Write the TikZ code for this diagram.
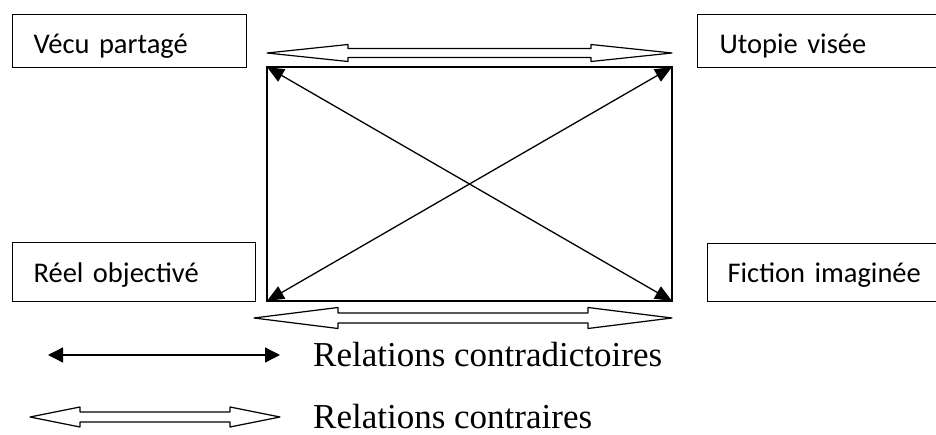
\documentclass[tikz,border=0pt]{standalone}
\usepackage{fontspec}
\setmainfont{Liberation Serif}
\newfontfamily\calibri{Carlito}
\usetikzlibrary{arrows.meta,calc}

% hollow double arrow: #1,#2 tips, #3 head length, #4 head half height, #5 shaft half height
\newcommand{\flechecontraire}[5]{%
  \draw[line width=1.2pt, line join=round] (#1) -- ($(#1)+(#3,-#4)$) -- ($(#1)+(#3,-#5)$)
    -- ($(#2)+(-#3,-#5)$) -- ($(#2)+(-#3,-#4)$) -- (#2) -- ($(#2)+(-#3,#4)$)
    -- ($(#2)+(-#3,#5)$) -- ($(#1)+(#3,#5)$) -- ($(#1)+(#3,#4)$) -- cycle;}

\begin{document}
\begin{tikzpicture}[x=1pt, y=-1pt,
	boite/.style={draw, line width=1.2pt, anchor=north west, align=left, inner ysep=0pt,
		font=\calibri\fontsize{28.5}{34}\selectfont},
	contra/.style={line width=1.3pt, {Triangle[length=17pt,width=14pt]}-{Triangle[length=17pt,width=14pt]}},
	legende/.style={anchor=base west, inner sep=0pt, font=\fontsize{35}{40}\selectfont}]
		\clip (0,0) rectangle (936,435);

		% les quatre termes
		\node[boite, inner xsep=21pt, text width=192pt, text height=39pt, text depth=14pt] (vecu) at (12,14) {Vécu partagé};
		\node[boite, inner xsep=22pt, text width=260pt, text height=39pt, text depth=14pt] (utopie) at (697,14) {Utopie visée};
		\node[boite, inner xsep=21pt, text width=201pt, text height=40pt, text depth=19pt] (reel) at (12,242) {Réel objectivé};
		\node[boite, inner xsep=20pt, text width=260pt, text height=39pt, text depth=19pt] (fiction) at (707,243) {Fiction imaginée};

		% le carré
		\coordinate (hg) at (267,67);
		\coordinate (hd) at (672,67);
		\coordinate (bg) at (267,301);
		\coordinate (bd) at (672,301);
		\draw[line width=1.5pt] (hg) rectangle (bd);
		\draw[contra] (hg) -- (bd);
		\draw[contra] (hd) -- (bg);

		% relations contraires
		\coordinate (ch1) at (267,53);
		\coordinate (ch2) at (672,53);
		\coordinate (cb1) at (254,318);
		\coordinate (cb2) at (672,318);
		\flechecontraire{ch1}{ch2}{81}{8.5}{4.5}
		\flechecontraire{cb1}{cb2}{84}{10.5}{5}

		% légende
		\coordinate (lc1) at (48,355);
		\coordinate (lc2) at (280,355);
		\draw[line width=1.3pt, {Triangle[length=15pt,width=15pt]}-{Triangle[length=15pt,width=15pt]}] (lc1) -- (lc2);
		\node[legende] (leg1) at (313,366) {Relations contradictoires};

		\coordinate (lr1) at (30,417);
		\coordinate (lr2) at (280,417);
		\flechecontraire{lr1}{lr2}{50}{10}{5}
		\node[legende] (leg2) at (313,428) {Relations contraires};

	\end{tikzpicture}
\end{document}
